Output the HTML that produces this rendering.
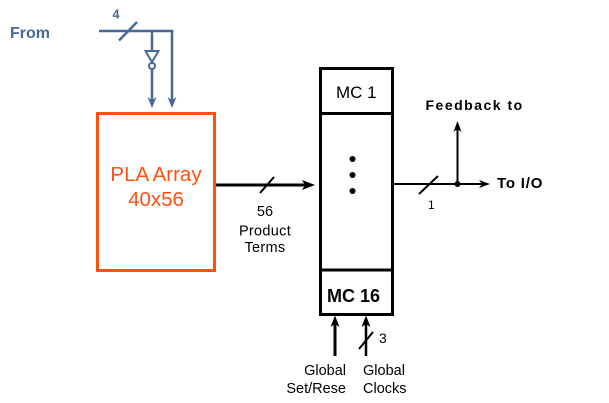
<!DOCTYPE html>
<html>
<head>
<meta charset="utf-8">
<style>
  html, body { margin:0; padding:0; background:#ffffff; }
  body { width:609px; height:403px; overflow:hidden; }
  svg { display:block; }
  text { font-family: "Liberation Sans", Arial, sans-serif; }
</style>
</head>
<body>
<svg width="609" height="403" viewBox="0 0 609 403" xmlns="http://www.w3.org/2000/svg">
  <rect width="609" height="403" fill="#ffffff"/>

  <!-- Blue input section -->
  <g stroke="#466A94" fill="none" stroke-width="2.5">
    <line x1="99" y1="31" x2="173.5" y2="31"/>
    <line x1="172" y1="31" x2="172" y2="100"/>
    <line x1="152" y1="31" x2="152" y2="51"/>
    <polygon points="145.5,51 158.5,51 152,62" stroke-width="2"/>
    <circle cx="152" cy="66" r="3" stroke-width="2"/>
    <line x1="152" y1="69" x2="152" y2="100"/>
    <line x1="119" y1="40.5" x2="137" y2="22"/>
  </g>
  <g fill="#466A94">
    <polygon points="152,108 147.5,97 152,100 156.5,97"/>
    <polygon points="172,108 167.5,97 172,100 176.5,97"/>
  </g>
  <text x="10" y="38" font-size="16" font-weight="bold" fill="#466A94">From</text>
  <text x="112.5" y="18.5" font-size="12.5" font-weight="bold" fill="#466A94">4</text>

  <!-- PLA Array box -->
  <rect x="97.5" y="113.5" width="117" height="157" fill="none" stroke="#FF5010" stroke-width="3"/>
  <text x="156" y="181" font-size="20.5" fill="#FF5010" text-anchor="middle">PLA Array</text>
  <text x="156" y="206" font-size="20.5" fill="#FF5010" text-anchor="middle">40x56</text>

  <!-- Main arrow to MC -->
  <line x1="216" y1="185" x2="305" y2="185" stroke="#000" stroke-width="3"/>
  <polygon points="315,185 302,180 305,185 302,190" fill="#000"/>
  <line x1="260" y1="193" x2="274" y2="177" stroke="#000" stroke-width="2"/>
  <text x="265" y="216" font-size="14.5" text-anchor="middle" fill="#000">56</text>
  <text x="265" y="235.5" font-size="14.5" text-anchor="middle" fill="#000" letter-spacing="0.3">Product</text>
  <text x="265" y="252" font-size="14.5" text-anchor="middle" fill="#000" letter-spacing="0.3">Terms</text>

  <!-- MC box -->
  <rect x="320.5" y="68.5" width="72" height="246" fill="none" stroke="#000" stroke-width="3"/>
  <line x1="320.5" y1="113.5" x2="392.5" y2="113.5" stroke="#000" stroke-width="3"/>
  <line x1="320.5" y1="270" x2="392.5" y2="270" stroke="#000" stroke-width="3"/>
  <text x="336" y="98" font-size="17" fill="#000">MC 1</text>
  <text x="327" y="302" font-size="18" font-weight="bold" fill="#000">MC 16</text>
  <circle cx="352.5" cy="159" r="3" fill="#000"/>
  <circle cx="352.5" cy="175" r="3" fill="#000"/>
  <circle cx="352.5" cy="191" r="3" fill="#000"/>

  <!-- Output -->
  <line x1="394" y1="184" x2="482" y2="184" stroke="#000" stroke-width="2"/>
  <polygon points="490,184 479,180 482,184 479,188" fill="#000"/>
  <line x1="419" y1="194" x2="438" y2="176" stroke="#000" stroke-width="2"/>
  <text x="428" y="209" font-size="12" fill="#000">1</text>
  <line x1="457.5" y1="184" x2="457.5" y2="129" stroke="#000" stroke-width="2"/>
  <polygon points="457.5,121 453.5,132 457.5,129 461.5,132" fill="#000"/>
  <circle cx="457.5" cy="184" r="3" fill="#000"/>
  <text x="425.5" y="110" font-size="14" font-weight="bold" fill="#000" letter-spacing="1.5">Feedback to</text>
  <text x="497" y="188" font-size="15" font-weight="bold" fill="#000" letter-spacing="0.8">To I/O</text>

  <!-- Bottom inputs -->
  <line x1="335" y1="356" x2="335" y2="323" stroke="#000" stroke-width="3"/>
  <polygon points="335,315.5 330.5,327 335,324 339.5,327" fill="#000"/>
  <line x1="366" y1="356" x2="366" y2="323" stroke="#000" stroke-width="2.5"/>
  <polygon points="366,315.5 361.5,327 366,324 370.5,327" fill="#000"/>
  <line x1="359" y1="349" x2="373" y2="332" stroke="#000" stroke-width="2"/>
  <text x="379" y="343" font-size="14" fill="#000">3</text>
  <text x="346" y="375" font-size="14.5" text-anchor="end" fill="#000">Global</text>
  <text x="346" y="393" font-size="14.5" text-anchor="end" fill="#000">Set/Rese</text>
  <text x="363" y="375" font-size="14.5" fill="#000">Global</text>
  <text x="363" y="393" font-size="14.5" fill="#000">Clocks</text>
</svg>
</body>
</html>
